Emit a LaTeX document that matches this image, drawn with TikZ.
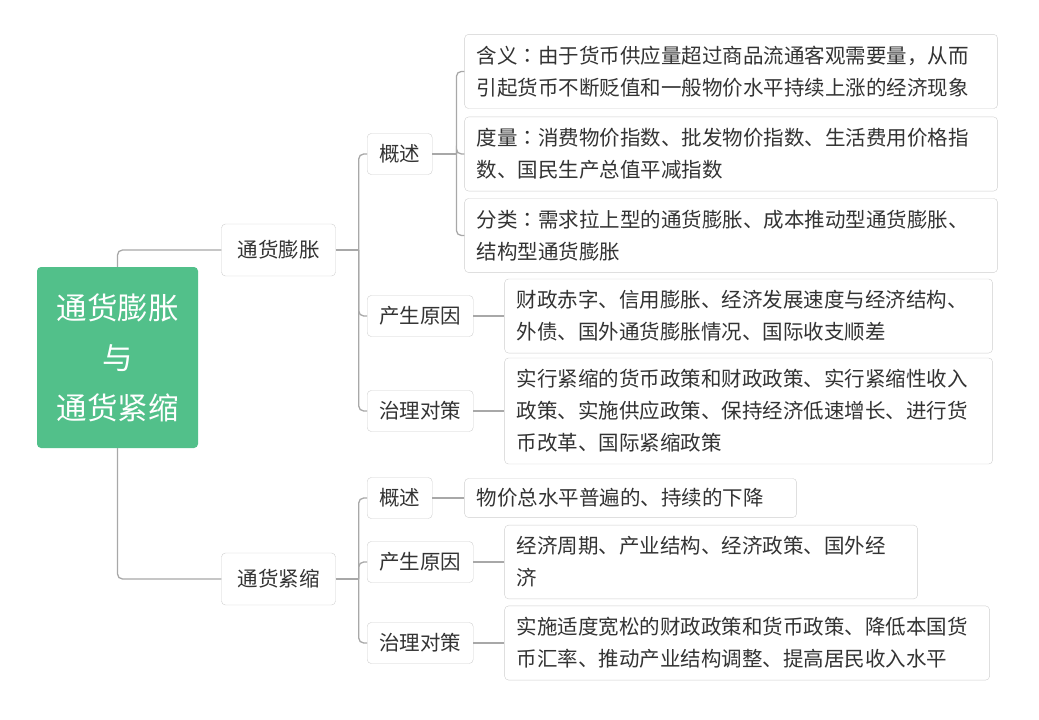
\documentclass[tikz,border=0pt]{standalone}
\usepackage{fontspec}
\usepackage{tikz}
\usetikzlibrary{positioning}
\newfontfamily\cjk{Noto Sans CJK SC}
\newfontfamily\cjktc{Noto Sans CJK TC}
\newcommand{\mhao}{{\cjktc ：}}
\definecolor{rootgreen}{HTML}{52C08A}
\definecolor{boxline}{HTML}{CFCFCF}
\definecolor{linkgray}{HTML}{A8A8A8}
\definecolor{textgray}{HTML}{333333}

\begin{document}
\begin{tikzpicture}[
    x=1pt, y=-1pt,
    rootbox/.style={rectangle, rounded corners=4pt, fill=rootgreen, text=white, minimum width=161pt, minimum height=181pt, text width=137pt, align=center, font=\cjk\fontsize{30.5}{50}\selectfont},
    branchbox/.style={rectangle, rounded corners=4pt, draw=boxline, fill=white, text=textgray, minimum height=52pt, inner xsep=16pt, font=\cjk\fontsize{20.5}{32}\selectfont},
    topicbox/.style={branchbox, minimum height=41pt, inner xsep=12pt},
    leafbox/.style={rectangle, rounded corners=4pt, draw=boxline, fill=white, text=textgray, text width=#1, inner xsep=12pt, inner ysep=11.5pt, align=left, font=\cjk\fontsize{20.5}{32}\selectfont},
    link/.style={draw=linkgray, line width=1.3pt, rounded corners=5pt},
  ]
  \useasboundingbox (0,0) rectangle (1039,720);
  % Root
  \node[rootbox] (root) at (117.5,357.5) {通货膨胀\\与\\通货紧缩};
  % Branches
  \node[branchbox] (pz) at (278.5,250) {通货膨胀};
  \node[branchbox] (jz) at (278.5,579) {通货紧缩};
  % Inflation topics
  \node[topicbox, anchor=west] (pgs) at (367,154) {概述};
  \node[topicbox, anchor=west] (pyy) at (367,316) {产生原因};
  \node[topicbox, anchor=west] (pdc) at (367,411) {治理对策};
  % Inflation details
  \node[leafbox=509pt, right=32pt of pgs] (pdl) {度量\mhao 消费物价指数、批发物价指数、生活费用价格指\\数、国民生产总值平减指数};
  \node[leafbox=509pt, above=8pt of pdl] (phy) {含义\mhao 由于货币供应量超过商品流通客观需要量，从而\\引起货币不断贬值和一般物价水平持续上涨的经济现象};
  \node[leafbox=509pt, below=7pt of pdl] (pfl) {分类\mhao 需求拉上型的通货膨胀、成本推动型通货膨胀、\\结构型通货膨胀};
  \node[leafbox=464pt, right=31pt of pyy] (pyyx) {财政赤字、信用膨胀、经济发展速度与经济结构、\\外债、国外通货膨胀情况、国际收支顺差};
  \node[leafbox=464pt, right=31pt of pdc] (pdcx) {实行紧缩的货币政策和财政政策、实行紧缩性收入\\政策、实施供应政策、保持经济低速增长、进行货\\币改革、国际紧缩政策};
  % Deflation topics
  \node[topicbox, anchor=west] (jgs) at (367,498) {概述};
  \node[topicbox, anchor=west] (jyy) at (367,562) {产生原因};
  \node[topicbox, anchor=west] (jdc) at (367,643) {治理对策};
  % Deflation details
  \node[leafbox=308pt, right=32pt of jgs, inner ysep=10pt] (jgsx) {物价总水平普遍的、持续的下降};
  \node[leafbox=389pt, right=31pt of jyy] (jyyx) {经济周期、产业结构、经济政策、国外经\\济};
  \node[leafbox=461pt, right=31pt of jdc] (jdcx) {实施适度宽松的财政政策和货币政策、降低本国货\\币汇率、推动产业结构调整、提高居民收入水平};
  % Root links
  \draw[link] (root.north) |- (pz.west);
  \draw[link] (root.south) |- (jz.west);
  % Inflation links
  \coordinate (pzb) at ([xshift=23pt]pz.east);
  \draw[link] (pz.east) -- (pzb);
  \draw[link] (pzb) |- (pgs.west);
  \draw[link] (pzb) |- (pyy.west);
  \draw[link] (pzb) |- (pdc.west);
  \coordinate (pgsb) at ([xshift=24pt]pgs.east);
  \draw[link] (pgs.east) -- (pgsb);
  \draw[link] (pgsb) |- (phy.west);
  \draw[link] (pgsb) |- (pdl.west);
  \draw[link] (pgsb) |- (pfl.west);
  \draw[link] (pyy.east) -- (pyyx.west);
  \draw[link] (pdc.east) -- (pdcx.west);
  % Deflation links
  \coordinate (jzb) at ([xshift=23pt]jz.east);
  \draw[link] (jz.east) -- (jzb);
  \draw[link] (jzb) |- (jgs.west);
  \draw[link] (jzb) |- (jyy.west);
  \draw[link] (jzb) |- (jdc.west);
  \draw[link] (jgs.east) -- (jgsx.west);
  \draw[link] (jyy.east) -- (jyyx.west);
  \draw[link] (jdc.east) -- (jdcx.west);
\end{tikzpicture}
\end{document}
